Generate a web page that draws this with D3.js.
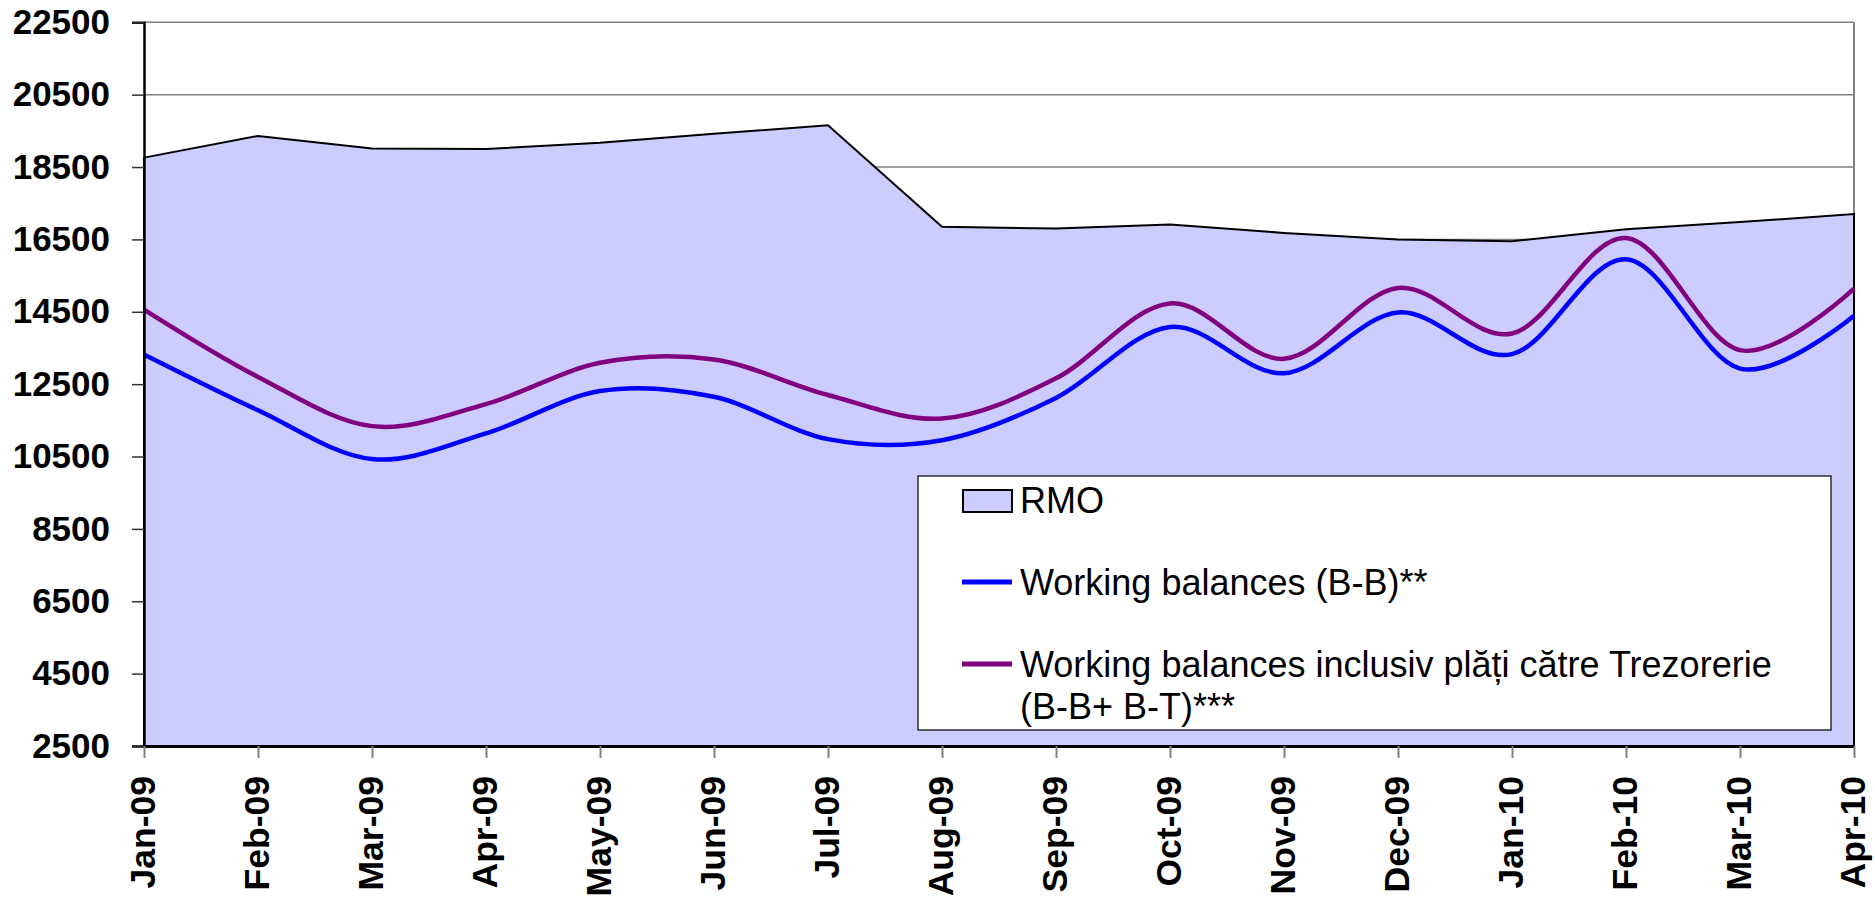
<!DOCTYPE html>
<html>
<head>
<meta charset="utf-8">
<script src="https://cdn.jsdelivr.net/npm/d3@7/dist/d3.min.js"></script>
<style>
  html, body { margin: 0; padding: 0; background: #ffffff; }
  svg { display: block; font-family: "Liberation Sans", Arial, sans-serif; }
</style>
</head>
<body>
<svg id="chart" width="1875" height="900"></svg>
<script>
const months = ["Jan-09","Feb-09","Mar-09","Apr-09","May-09","Jun-09","Jul-09","Aug-09","Sep-09","Oct-09","Nov-09","Dec-09","Jan-10","Feb-10","Mar-10","Apr-10"];
const rmo = [18760,19360,19010,19000,19170,19420,19655,16850,16800,16910,16680,16500,16450,16780,16980,17200];
const workingBB = [13320,11780,10430,11140,12310,12150,10980,10950,12120,14080,12800,14480,13330,15950,12930,14390];
const workingBBT = [14560,12700,11340,11950,13090,13180,12200,11550,12660,14730,13200,15160,13900,16540,13440,15140];
const yTicks = [2500,4500,6500,8500,10500,12500,14500,16500,18500,20500,22500];
const legendLabels = ["RMO","Working balances (B-B)**","Working balances inclusiv plăți către Trezorerie","(B-B+ B-T)***"];

(function () {
const svg = d3.select("#chart");
const pLeft = 144, pRight = 1854, pTop = 22.3, pBottom = 746;

const x = d3.scalePoint().domain(months).range([pLeft, pRight]);
const y = d3.scaleLinear().domain([2500, 22500]).range([pBottom, pTop]);

// gridlines
svg.append("g").selectAll("line").data(yTicks).join("line")
  .attr("x1", pLeft).attr("x2", pRight)
  .attr("y1", d => y(d)).attr("y2", d => y(d))
  .attr("stroke", "#808080").attr("stroke-width", 1.5);
// right border
svg.append("line").attr("x1", pRight).attr("x2", pRight).attr("y1", pTop).attr("y2", pBottom)
  .attr("stroke", "#808080").attr("stroke-width", 2);

// RMO area
const area = d3.area().x((d, i) => x(months[i])).y0(y(2500)).y1(d => y(d));
svg.append("path").datum(rmo).attr("d", area)
  .attr("fill", "#CCCCFF").attr("stroke", "#000").attr("stroke-width", 2);

// lines
const line = d3.line().x((d, i) => x(months[i])).y(d => y(d)).curve(d3.curveCardinal.tension(0));
svg.append("path").datum(workingBB).attr("d", line)
  .attr("fill", "none").attr("stroke", "#0000FF").attr("stroke-width", 4.5);
svg.append("path").datum(workingBBT).attr("d", line)
  .attr("fill", "none").attr("stroke", "#800080").attr("stroke-width", 4.5);

// y axis
const yAxis = d3.axisLeft(y).tickValues(yTicks).tickSize(12).tickPadding(22).tickFormat(d3.format("d"));
const gy = svg.append("g").attr("transform", `translate(${pLeft},0)`).call(yAxis);
gy.select(".domain").attr("stroke", "#000").attr("stroke-width", 2.5);
gy.selectAll(".tick line").attr("stroke", "#333").attr("stroke-width", 1.5);
gy.selectAll(".tick text").attr("font-size", 35).attr("font-weight", "bold").attr("fill", "#000")
  .attr("font-family", "'Liberation Sans', Arial, sans-serif");

// x axis
const xAxis = d3.axisBottom(x).tickSize(12).tickPadding(6).tickSizeOuter(0);
const gx = svg.append("g").attr("transform", `translate(0,${pBottom})`).call(xAxis);
gx.select(".domain").attr("stroke", "#000").attr("stroke-width", 3);
gx.selectAll(".tick line").attr("stroke", "#808080").attr("stroke-width", 2);
gx.selectAll(".tick text")
  .attr("font-size", 35.5).attr("font-weight", "bold").attr("fill", "#000")
  .attr("font-family", "'Liberation Sans', Arial, sans-serif")
  .attr("transform", "rotate(-90)")
  .attr("text-anchor", "end").attr("dy", "0.3em").attr("x", -30).attr("y", 0);

// legend
const lg = svg.append("g");
lg.append("rect").attr("x", 918).attr("y", 476).attr("width", 913).attr("height", 254)
  .attr("fill", "#fff").attr("stroke", "#000").attr("stroke-width", 1.2);
lg.append("rect").attr("x", 963).attr("y", 490).attr("width", 49).attr("height", 22)
  .attr("fill", "#CCCCFF").attr("stroke", "#000").attr("stroke-width", 2);
lg.append("line").attr("x1", 962).attr("x2", 1012).attr("y1", 582).attr("y2", 582)
  .attr("stroke", "#0000FF").attr("stroke-width", 5);
lg.append("line").attr("x1", 962).attr("x2", 1012).attr("y1", 664).attr("y2", 664)
  .attr("stroke", "#800080").attr("stroke-width", 5);
const ty = [513, 595, 677, 719];
lg.selectAll("text").data(legendLabels).join("text")
  .attr("x", 1020).attr("y", (d, i) => ty[i])
  .attr("font-size", 36).attr("fill", "#000")
  .text(d => d);
})();
</script>
</body>
</html>
